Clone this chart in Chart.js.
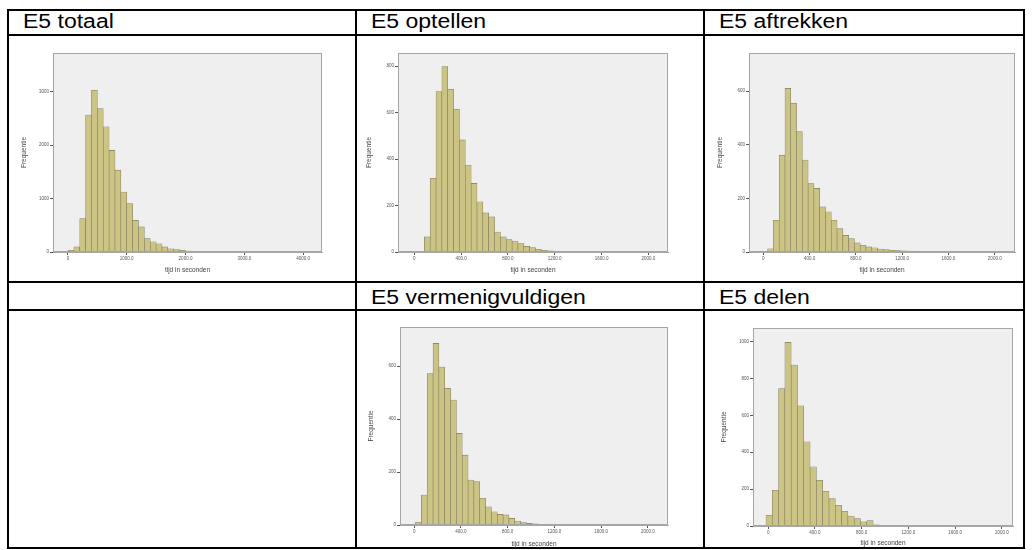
<!DOCTYPE html>
<html>
<head>
<meta charset="utf-8">
<script src="https://cdn.jsdelivr.net/npm/chart.js@4.4.1/dist/chart.umd.min.js"></script>
<style>
  html, body { margin: 0; padding: 0; background: #fff; }
  #page { position: relative; width: 1032px; height: 550px; overflow: hidden; font-family: "Liberation Sans", Arial, sans-serif; }
  .hl { position: absolute; height: 2px; background: #000; }
  .vl { position: absolute; width: 2px; background: #000; }
  .head { position: absolute; font-size: 20px; line-height: 20px; color: #000; white-space: nowrap; transform: scaleX(1.15); transform-origin: 0 0; }
  canvas { position: absolute; }
</style>
</head>
<body>
<div id="page">
  <div class="hl" style="left:7px;top:9px;width:1018px"></div>
  <div class="hl" style="left:7px;top:34px;width:1018px"></div>
  <div class="hl" style="left:7px;top:281px;width:1018px"></div>
  <div class="hl" style="left:7px;top:309px;width:1018px"></div>
  <div class="hl" style="left:7px;top:547px;width:1018px"></div>
  <div class="vl" style="left:7px;top:9px;height:540px"></div>
  <div class="vl" style="left:355px;top:9px;height:540px"></div>
  <div class="vl" style="left:703px;top:9px;height:540px"></div>
  <div class="vl" style="left:1023px;top:9px;height:540px"></div>

  <div class="head" id="h0" style="left:23px;top:11px"></div>
  <div class="head" id="h1" style="left:371px;top:11px"></div>
  <div class="head" id="h2" style="left:719px;top:11px"></div>
  <div class="head" id="h3" style="left:371px;top:287px"></div>
  <div class="head" id="h4" style="left:719px;top:287px"></div>

  <canvas id="c0" width="325" height="232" style="left:20px;top:42px"></canvas>
  <canvas id="c1" width="330" height="232" style="left:365px;top:42px"></canvas>
  <canvas id="c2" width="305" height="232" style="left:716px;top:42px"></canvas>
  <canvas id="c3" width="325" height="232" style="left:367px;top:316px"></canvas>
  <canvas id="c4" width="300" height="230" style="left:720px;top:317px"></canvas>
</div>
<script>
// cell titles
const titles = ['E5 totaal', 'E5 optellen', 'E5 aftrekken', 'E5 vermenigvuldigen', 'E5 delen'];
const xTitle = 'tijd in seconden';
const yTitle = 'Frequentie';

// histogram counts per bin
const totaalCounts = [30, 95, 625, 2560, 3025, 2680, 2340, 1900, 1530, 1120, 905, 590, 470, 250, 190, 155, 95, 60, 45, 30, 15, 10, 8, 5, 5, 3, 3, 2, 2, 2, 1, 1, 1, 0, 1];
const optellenCounts = [2, 65, 317, 690, 798, 700, 614, 482, 374, 295, 216, 168, 151, 86, 65, 53, 47, 36, 24, 19, 12, 7, 5, 4, 3, 3, 2, 2, 1, 1, 2, 1, 1, 1, 0, 1];
const aftrekkenCounts = [12, 118, 361, 610, 555, 449, 343, 255, 237, 168, 150, 118, 87, 62, 50, 34, 25, 19, 16, 11, 9, 6, 5, 4, 3, 3, 2, 2, 1, 2, 1, 1, 1, 1, 0, 1];
const vermCounts = [10, 113, 572, 686, 597, 516, 472, 346, 264, 170, 164, 101, 69, 50, 40, 38, 25, 15, 9, 6, 4, 3, 3, 2, 2, 2, 1, 2, 1, 1, 1, 1];
const delenCounts = [58, 194, 746, 996, 873, 652, 457, 321, 248, 188, 149, 112, 80, 54, 40, 22, 29, 6, 4, 3, 3, 2, 2, 1, 2, 1, 1, 1];

// bin start and width (seconds)
const totaalBins = [0, 100];
const optellenBins = [36, 50];
const aftrekkenBins = [37, 50];
const vermBins = [11, 50];
const delenBins = [-20, 54];

// tick values and labels
const xTicksTotaal = [0, 1000, 2000, 3000, 4000];
const xLabelsTotaal = ['0', '1000.0', '2000.0', '3000.0', '4000.0'];
const xTicksDeel = [0, 400, 800, 1200, 1600, 2000];
const xLabelsDeel = ['0', '400.0', '800.0', '1200.0', '1600.0', '2000.0'];
const yTicksTotaal = [0, 1000, 2000, 3000];
const yTicksOptellen = [0, 200, 400, 600, 800];
const yTicksAftrekken = [0, 200, 400, 600];
const yTicksVerm = [0, 200, 400, 600];
const yTicksDelen = [0, 200, 400, 600, 800, 1000];

titles.forEach((t, i) => { document.getElementById('h' + i).textContent = t; });

const plotFrame = {
  id: 'plotFrame',
  beforeDraw(chart) {
    const a = chart.chartArea, ctx = chart.ctx;
    ctx.save();
    ctx.fillStyle = '#efefef';
    ctx.fillRect(a.left, a.top, a.right - a.left, a.bottom - a.top);
    ctx.restore();
  },
  afterDraw(chart) {
    const a = chart.chartArea, ctx = chart.ctx;
    ctx.save();
    ctx.strokeStyle = '#a6a6a6';
    ctx.lineWidth = 1;
    ctx.strokeRect(a.left + 0.5, a.top + 0.5, a.right - a.left - 1, a.bottom - a.top - 1);
    ctx.restore();
  }
};

const fam = '"Liberation Sans", Arial, sans-serif';

function histogram(id, counts, bins, xTicks, xLabels, yTicks, lim, frame) {
  const data = counts.map((c, i) => ({ x: bins[0] + (i + 0.5) * bins[1], y: c }));
  new Chart(document.getElementById(id), {
    type: 'bar',
    data: { datasets: [{
      data: data,
      backgroundColor: '#cbc484',
      borderColor: '#807c60',
      borderWidth: 0.6,
      barPercentage: 1,
      categoryPercentage: 1
    }] },
    options: {
      responsive: false,
      animation: false,
      devicePixelRatio: 1,
      layout: { padding: { top: frame.top, right: frame.right, left: 0, bottom: 0 } },
      plugins: { legend: { display: false }, tooltip: { enabled: false } },
      scales: {
        x: {
          type: 'linear', min: lim[0], max: lim[1], offset: false,
          grid: { drawOnChartArea: false, drawTicks: true, tickLength: 3, color: '#555', offset: false },
          border: { display: true, color: '#a6a6a6' },
          afterBuildTicks: s => { s.ticks = xTicks.map(v => ({ value: v })); },
          afterFit: s => { s.height = frame.bottom; },
          ticks: { autoSkip: false, maxRotation: 0, padding: 1, color: '#555', font: { size: 4.5, family: fam },
                   callback: (v, i) => xLabels[i] },
          title: { display: true, text: xTitle, color: '#444', padding: { top: 2, bottom: 0 }, font: { size: 6.5, family: fam } }
        },
        y: {
          min: 0, max: lim[2],
          grid: { drawOnChartArea: false, drawTicks: true, tickLength: 3, color: '#555' },
          border: { display: true, color: '#a6a6a6' },
          afterBuildTicks: s => { s.ticks = yTicks.map(v => ({ value: v })); },
          afterFit: s => { s.width = frame.left; },
          ticks: { autoSkip: false, padding: 1, color: '#555', font: { size: 4.5, family: fam },
                   callback: v => String(v) },
          title: { display: true, text: yTitle, color: '#444', padding: 0, font: { size: 6.5, family: fam } }
        }
      }
    },
    plugins: [plotFrame]
  });
}

histogram('c0', totaalCounts, totaalBins, xTicksTotaal, xLabelsTotaal, yTicksTotaal, [-255, 4323, 3720], { left: 33, top: 11, right: 23, bottom: 22 });
histogram('c1', optellenCounts, optellenBins, xTicksDeel, xLabelsDeel, yTicksOptellen, [-139, 2168, 856], { left: 33, top: 11, right: 27, bottom: 22 });
histogram('c2', aftrekkenCounts, aftrekkenBins, xTicksDeel, xLabelsDeel, yTicksAftrekken, [-124, 2175, 742], { left: 33, top: 11, right: 6, bottom: 22 });
histogram('c3', vermCounts, vermBins, xTicksDeel, xLabelsDeel, yTicksVerm, [-122, 2173, 748], { left: 33, top: 11, right: 24, bottom: 23 });
histogram('c4', delenCounts, delenBins, xTicksDeel, xLabelsDeel, yTicksDelen, [-131, 2096, 1074], { left: 33, top: 11, right: 7, bottom: 21 });
</script>
</body>
</html>
